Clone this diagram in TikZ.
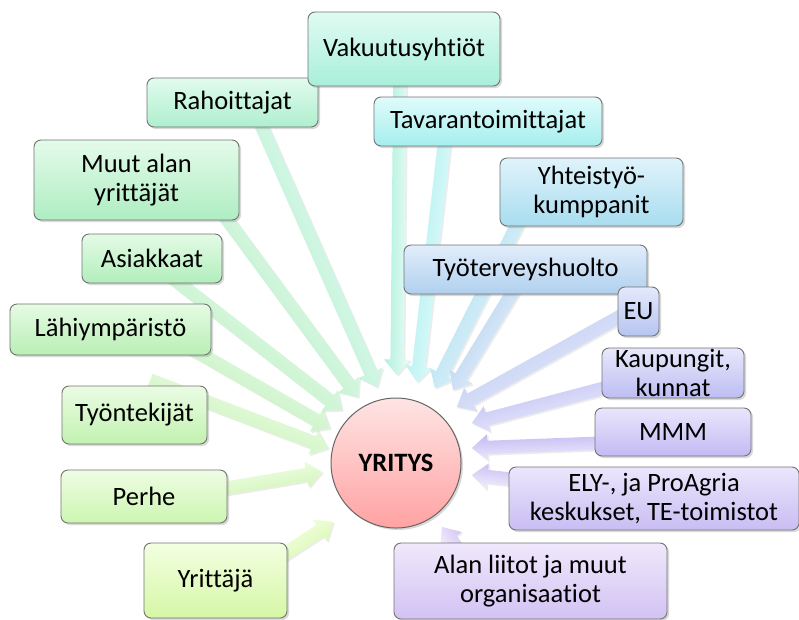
\documentclass[tikz,border=0pt]{standalone}
\usepackage{fontspec}
\setmainfont[Ligatures=NoCommon]{Carlito}
\usetikzlibrary{calc, shapes.arrows, shadows, backgrounds}
\definecolor{yriTop}{HTML}{F3FFE2}\definecolor{yriBot}{HTML}{D5F7A6}
\definecolor{perTop}{HTML}{EEFDE4}\definecolor{perBot}{HTML}{CDF5B0}
\definecolor{tyoTop}{HTML}{EAFCE4}\definecolor{tyoBot}{HTML}{C2F2B0}
\definecolor{lahTop}{HTML}{E6FBE4}\definecolor{lahBot}{HTML}{B8EFB4}
\definecolor{asiTop}{HTML}{E4FBE6}\definecolor{asiBot}{HTML}{B2EEBC}
\definecolor{muuTop}{HTML}{E4FBEA}\definecolor{muuBot}{HTML}{AEEDC2}
\definecolor{rahTop}{HTML}{E2FBEE}\definecolor{rahBot}{HTML}{AEEFCE}
\definecolor{vakTop}{HTML}{E0FBF2}\definecolor{vakBot}{HTML}{A8EFDA}
\definecolor{tavTop}{HTML}{E0FBFB}\definecolor{tavBot}{HTML}{A6EEEE}
\definecolor{yhtTop}{HTML}{E0F3FB}\definecolor{yhtBot}{HTML}{A8DDEF}
\definecolor{tytTop}{HTML}{E2EDFB}\definecolor{tytBot}{HTML}{B0D0EF}
\definecolor{euTop}{HTML}{E4E9FB}\definecolor{euBot}{HTML}{B6C4F0}
\definecolor{kauTop}{HTML}{E8E8FC}\definecolor{kauBot}{HTML}{BDBDF3}
\definecolor{mmmTop}{HTML}{EAE6FC}\definecolor{mmmBot}{HTML}{C3BAF3}
\definecolor{elyTop}{HTML}{ECE6FC}\definecolor{elyBot}{HTML}{C9BDF3}
\definecolor{aliTop}{HTML}{F0E8FC}\definecolor{aliBot}{HTML}{D2C2F3}
\definecolor{hubTop}{HTML}{FFE4E4}\definecolor{hubBot}{HTML}{FFA2A2}

% block arrow from a tail coordinate to a tip coordinate
\newcommand{\feedarrow}[3]{%
  \path let \p1=(#1), \p2=(#2), \n1={atan2(\y2-\y1,\x2-\x1)},
    \n2={veclen(\x2-\x1,\y2-\y1)} in
    node[feed, name=a-#3, minimum height=\n2, rotate=\n1,
      left color=#3Top!60!white, right color=#3Bot, shading angle=\n1] at (\p1) {};}

\begin{document}
\begin{tikzpicture}[
        x=1pt, y=-1pt,
        font=\fontsize{26.5}{28.5}\selectfont,
        stake/.style 2 args={draw=black!55, line width=0.9pt, rounded corners=7pt,
                    align=center, inner sep=0pt, minimum width=#1, minimum height=#2,
                    drop shadow={opacity=0.3, shadow xshift=2pt, shadow yshift=-2pt}},
        tone/.style={top color=#1Top, bottom color=#1Bot},
        hub/.style={circle, draw=black!60, line width=1pt, minimum size=130pt,
                    top color=hubTop, bottom color=hubBot, font=\fontsize{26.5}{28.5}\selectfont\bfseries,
                    drop shadow={opacity=0.3, shadow xshift=2pt, shadow yshift=-2pt}},
        feed/.style={single arrow, anchor=tail, draw=none, inner xsep=0pt, inner ysep=6.5pt,
                    text height=0pt, text depth=0pt, minimum width=0pt,
                    single arrow head extend=6.5pt, single arrow tip angle=80,
                    drop shadow={opacity=0.15, shadow xshift=1.5pt, shadow yshift=-1.5pt}},
      ]
        \useasboundingbox (0,0) rectangle (799,619);
        \node[stake={166pt}{53pt}, tone=per] (per) at (144,496.5) {Perhe};
        \node[stake={145pt}{58pt}, tone=tyo] (tyo) at (134.5,415) {Työntekijät};
        \node[stake={201pt}{51pt}, tone=lah] (lah) at (110.5,329.5) {Lähiympäristö};
        \node[stake={140pt}{49pt}, tone=asi] (asi) at (152,258.5) {Asiakkaat};
        \node[stake={205pt}{80pt}, tone=muu] (muu) at (136.5,180) {Muut alan\\yrittäjät};
        \node[stake={171pt}{49pt}, tone=rah] (rah) at (232.5,102.5) {Rahoittajat};
        \node[stake={192pt}{74pt}, tone=vak] (vak) at (404,49) {Vakuutusyhtiöt};
        \node[stake={228pt}{49pt}, tone=tav] (tav) at (488,121.5) {Tavarantoimittajat};
        \node[stake={183pt}{68pt}, tone=yht] (yht) at (591.5,192) {Yhteistyö-\\kumppanit};
        \node[stake={243pt}{49pt}, tone=tyt] (tyt) at (525.5,269.5) {Työterveyshuolto};
        \node[stake={41pt}{49pt}, tone=eu] (eu) at (638.5,311.5) {EU};
        \node[stake={142pt}{50pt}, tone=kau] (kau) at (673,373) {Kaupungit,\\kunnat};
        \node[stake={156pt}{48pt}, tone=mmm] (mmm) at (673,432) {MMM};
        \node[stake={290pt}{63pt}, tone=ely] (ely) at (654,498.5) {ELY-, ja ProAgria\\keskukset, TE-toimistot};
        \node[stake={273pt}{76pt}, tone=ali] (ali) at (530.5,581) {Alan liitot ja muut\\organisaatiot};
        \node[stake={143pt}{75pt}, tone=yri] (yri) at (215.5,580.5) {Yrittäjä};
        \node[hub] (firm) at (396,463) {YRITYS};

        % arrow tails under the boxes
        \coordinate (s-rah) at ($(rah)+(25.5,15.5)$);
        \coordinate (s-vak) at ($(vak)+(-4,21)$);
        \coordinate (s-tav) at ($(tav)+(-43,16.5)$);
        \coordinate (s-yht) at ($(yht)+(-69.5,23)$);
        \coordinate (s-tyt) at ($(tyt)+(-8.5,15.5)$);
        \coordinate (s-eu)  at ($(eu)+(-10.5,0.5)$);
        \coordinate (s-kau) at ($(kau)+(-61,13)$);
        \coordinate (s-mmm) at ($(mmm)+(-68,11)$);
        \coordinate (s-ely) at ($(ely)+(-134,-18.5)$);
        \coordinate (s-ali) at ($(ali)+(-68.5,-26)$);
        \coordinate (s-yri) at ($(yri)+(59.5,-20.5)$);
        \coordinate (s-per) at ($(per)+(71,-6.5)$);
        \coordinate (s-tyo) at ($(tyo)+(15.5,-35)$);
        \coordinate (s-lah) at ($(lah)+(69.5,12.5)$);
        \coordinate (s-asi) at ($(asi)+(13,13.5)$);
        \coordinate (s-muu) at ($(muu)+(83.5,30)$);
        % arrow tips round the circle
        \coordinate (h-rah) at ($(firm)+(-19,-76)$);
        \coordinate (h-vak) at ($(firm)+(1,-88)$);
        \coordinate (h-tav) at ($(firm)+(21,-81)$);
        \coordinate (h-yht) at ($(firm)+(39,-75)$);
        \coordinate (h-tyt) at ($(firm)+(57,-73)$);
        \coordinate (h-eu)  at ($(firm)+(61,-56)$);
        \coordinate (h-kau) at ($(firm)+(76,-40)$);
        \coordinate (h-mmm) at ($(firm)+(76,-15)$);
        \coordinate (h-ely) at ($(firm)+(76,12)$);
        \coordinate (h-ali) at ($(firm)+(46,64)$);
        \coordinate (h-yri) at ($(firm)+(-63,59)$);
        \coordinate (h-per) at ($(firm)+(-74,9)$);
        \coordinate (h-tyo) at ($(firm)+(-68,-15)$);
        \coordinate (h-lah) at ($(firm)+(-66,-35)$);
        \coordinate (h-asi) at ($(firm)+(-54,-53)$);
        \coordinate (h-muu) at ($(firm)+(-38,-66)$);

        \begin{scope}[on background layer]
          \fill[white] (0,0) rectangle (799,619);
          \foreach \k in {rah,vak,tav,yht,tyt,eu,kau,mmm,ely,ali,yri,per,tyo,lah,asi,muu}
            {\feedarrow{s-\k}{h-\k}{\k}}
        \end{scope}
      \end{tikzpicture}
\end{document}
